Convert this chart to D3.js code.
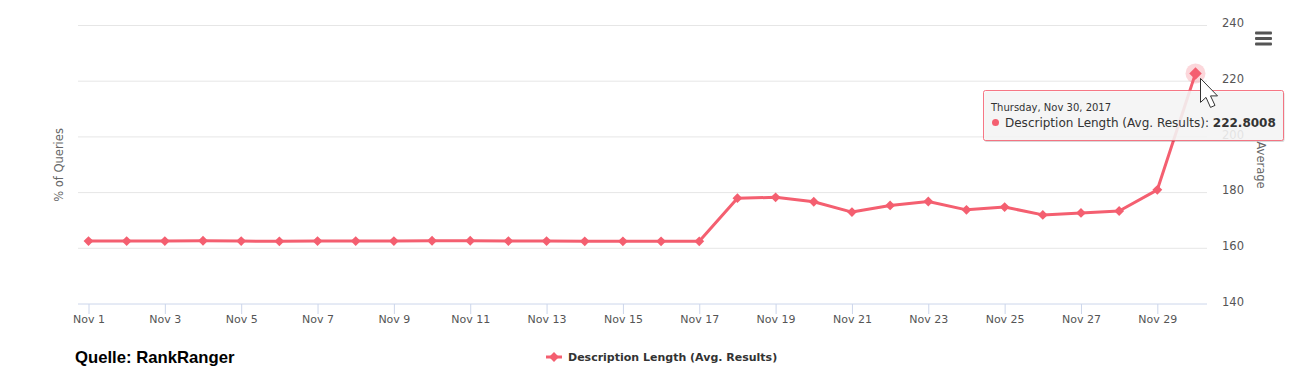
<!DOCTYPE html>
<html>
<head>
<meta charset="utf-8">
<script src="https://cdn.jsdelivr.net/npm/d3@7"></script>
<style>
  html, body { margin: 0; padding: 0; background: #fff; overflow: hidden; }
  text { font-family: "DejaVu Sans", Verdana, sans-serif; }
</style>
</head>
<body>
<div id="chart"></div>
<script>
const days = d3.range(1, 31).map(d => "Nov " + d);
const values = [162.6, 162.6, 162.6, 162.7, 162.6, 162.5, 162.6, 162.6, 162.6, 162.7,
  162.7, 162.6, 162.6, 162.5, 162.5, 162.5, 162.5, 178.0, 178.3, 176.7,
  173.0, 175.4, 176.8, 173.8, 174.8, 172.0, 172.7, 173.4, 181.0, 222.8];
const yTicks = [140, 160, 180, 200, 220, 240];
const seriesName = "Description Length (Avg. Results)";
const tooltipDate = "Thursday, Nov 30, 2017";
const tooltipValue = "222.8008";

const width = 1296, height = 378;
const color = "#f45f70";

const svg = d3.select("#chart").append("svg")
  .attr("width", width)
  .attr("height", height)
  .style("display", "block");

// X: one slot per day, Nov 1 sits half a slot in from the plot edge
const x = d3.scalePoint()
  .domain(days)
  .range([88.5, 1195.5]);

const y = d3.scaleLinear()
  .domain([140, 240])
  .range([304, 25.5]);

// Right axis labels, gridlines drawn separately below
const yAxis = svg.append("g")
  .attr("transform", "translate(1207,0)")
  .call(d3.axisRight(y).tickValues(yTicks).tickSize(0).tickPadding(15));
yAxis.select(".domain").remove();
yAxis.selectAll("text")
  .attr("font-size", 11.5)
  .attr("fill", "#555")
  .attr("dy", "0.1em");

svg.append("g").selectAll("line")
  .data(yTicks.filter(d => d !== 140))
  .enter().append("line")
  .attr("x1", 78)
  .attr("x2", 1207)
  .attr("y1", d => y(d))
  .attr("y2", d => y(d))
  .attr("stroke", "#e6e6e6");

// Bottom axis, every second day labelled
const xAxis = svg.append("g")
  .attr("transform", "translate(0,304)")
  .call(d3.axisBottom(x)
    .tickValues(days.filter((d, i) => i % 2 === 0 && i < 29))
    .tickSize(10)
    .tickPadding(0)
    .tickSizeOuter(0));
xAxis.select(".domain")
  .attr("d", "M78,0H1207")
  .attr("stroke", "#ccd6eb");
xAxis.selectAll("line").attr("stroke", "#ccd6eb");
xAxis.selectAll("text")
  .attr("font-size", 11)
  .attr("fill", "#555")
  .attr("dy", "0.8em");

// Axis titles
svg.append("text")
  .attr("transform", "translate(63,165) rotate(-90)")
  .attr("text-anchor", "middle")
  .attr("font-size", 11.5)
  .attr("fill", "#666")
  .text("% of Queries");

svg.append("text")
  .attr("transform", "translate(1257,165) rotate(90)")
  .attr("text-anchor", "middle")
  .attr("font-size", 11.5)
  .attr("fill", "#666")
  .text("Average");

// Line and diamonds
const line = d3.line()
  .x((d, i) => x(days[i]))
  .y(d => y(d));

svg.append("path")
  .datum(values)
  .attr("fill", "none")
  .attr("stroke", color)
  .attr("stroke-width", 3)
  .attr("stroke-linejoin", "round")
  .attr("d", line);

const diamond = d3.symbol().type(d3.symbolDiamond2).size(62);

svg.selectAll("path.point")
  .data(values)
  .enter().append("path")
  .attr("class", "point")
  .attr("transform", (d, i) => `translate(${x(days[i])},${y(d)})`)
  .attr("fill", color)
  .attr("d", diamond);

// Hover halo and enlarged diamond on the last point
const lastX = x(days[29]), lastY = y(values[29]);
svg.append("circle")
  .attr("cx", lastX)
  .attr("cy", lastY)
  .attr("r", 10)
  .attr("fill", color)
  .attr("fill-opacity", 0.25);
svg.append("path")
  .attr("transform", `translate(${lastX},${lastY})`)
  .attr("fill", color)
  .attr("d", d3.symbol().type(d3.symbolDiamond2).size(100));

// Tooltip
const tip = svg.append("g").attr("transform", "translate(983.5,90.5)");
tip.append("rect")
  .attr("x", 1).attr("y", 1.5)
  .attr("width", 300).attr("height", 50)
  .attr("rx", 2)
  .attr("fill", "#000")
  .attr("fill-opacity", 0.15);
tip.append("rect")
  .attr("width", 300).attr("height", 50)
  .attr("rx", 2)
  .attr("fill", "#f8f8f8")
  .attr("fill-opacity", 0.88)
  .attr("stroke", color)
  .attr("stroke-opacity", 0.85);
tip.append("text")
  .attr("x", 7.5).attr("y", 20)
  .attr("font-size", 10)
  .attr("fill", "#333")
  .text(tooltipDate);
tip.append("circle")
  .attr("cx", 12).attr("cy", 32)
  .attr("r", 3.5)
  .attr("fill", color);
const tipLine = tip.append("text")
  .attr("x", 21.5).attr("y", 36)
  .attr("font-size", 12)
  .attr("fill", "#333");
tipLine.append("tspan").text(seriesName + ": ");
tipLine.append("tspan").attr("font-weight", "bold").text(tooltipValue);

// Mouse pointer
svg.append("path")
  .attr("transform", `translate(${lastX + 5},${lastY + 5})`)
  .attr("d", "M0,0V24L5.5,19L10,29L14.5,27L10,17.5H17Z")
  .attr("fill", "#fff")
  .attr("stroke", "#333")
  .attr("stroke-width", 1);

// Menu button
svg.append("g").selectAll("rect")
  .data([31.5, 37, 42.5])
  .enter().append("rect")
  .attr("x", 1255)
  .attr("y", d => d)
  .attr("width", 17)
  .attr("height", 3)
  .attr("rx", 1)
  .attr("fill", "#555");

// Legend
const legend = svg.append("g").attr("transform", "translate(546,357)");
legend.append("line")
  .attr("x1", 0).attr("x2", 16)
  .attr("stroke", color)
  .attr("stroke-width", 3);
legend.append("path")
  .attr("transform", "translate(8,0)")
  .attr("fill", color)
  .attr("d", diamond);
legend.append("text")
  .attr("x", 22).attr("y", 4)
  .attr("font-size", 11)
  .attr("font-weight", "bold")
  .attr("fill", "#333")
  .text(seriesName);

// Source note
svg.append("text")
  .attr("x", 75).attr("y", 363)
  .style("font-family", "'Liberation Sans', Arial, sans-serif")
  .attr("font-size", 16.7)
  .attr("font-weight", "bold")
  .attr("fill", "#000")
  .text("Quelle: RankRanger");
</script>
</body>
</html>
